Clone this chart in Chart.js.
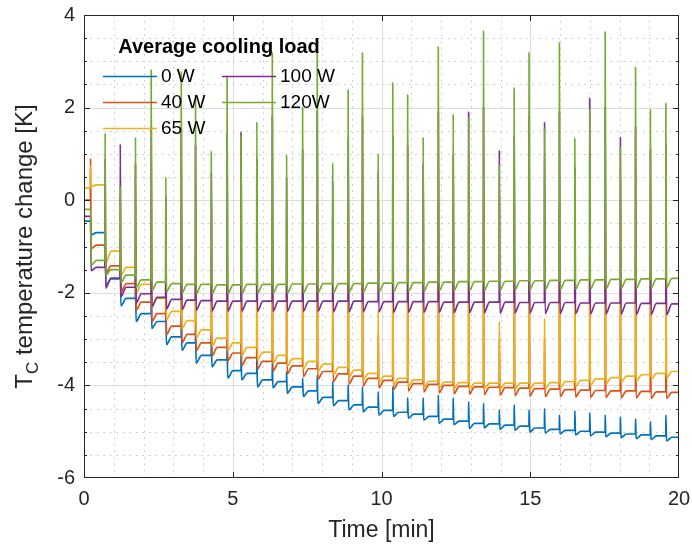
<!DOCTYPE html>
<html>
<head>
<meta charset="utf-8">
<script src="https://cdn.jsdelivr.net/npm/chart.js@4.4.0/dist/chart.umd.min.js"></script>
<style>
  html, body { margin: 0; padding: 0; background: #fff; }
  #wrap { width: 692px; height: 550px; }
</style>
</head>
<body>
<div id="wrap"><canvas id="chart" width="692" height="550"></canvas></div>
<script>
// Momentos dos picos (min)
const spikeTimes = [0.22, 0.71, 1.22, 1.73, 2.26, 2.75, 3.27, 3.75, 4.28, 4.81, 5.28, 5.81, 6.33,
  6.81, 7.35, 7.84, 8.36, 8.88, 9.36, 9.89, 10.38, 10.88, 11.40, 11.91, 12.41, 12.93, 13.43,
  13.96, 14.46, 14.96, 15.48, 15.98, 16.50, 17.00, 17.52, 18.03, 18.54, 19.04, 19.56];

const seriesNames = ['0 W', '40 W', '65 W', '100 W', '120W'];
const seriesColors = ['#0072BD', '#D95319', '#EDB120', '#7E2F8E', '#77AC30'];
const xTicks = [0, 5, 10, 15, 20];
const yTicks = [-6, -4, -2, 0, 2, 4];

// 0 W
const peaks0 = [-0.45, -0.40, -1.30, -1.70, -2.00, -2.30, -2.50, -2.80, -2.95, -3.15, -3.30, -3.40, -3.50,
  -3.71, -3.85, -3.78, -3.92, -3.99, -4.03, -4.14, -4.03, -4.27, -4.27, -4.21, -4.27, -4.35, -4.39,
  -4.53, -4.42, -4.53, -4.50, -4.64, -4.55, -4.60, -4.64, -4.68, -4.72, -4.78, -4.64];
const troughs0 = [-0.75, -1.85, -2.28, -2.62, -2.77, -3.12, -3.24, -3.52, -3.60, -3.84, -3.88, -4.03, -4.05,
  -4.17, -4.24, -4.39, -4.44, -4.53, -4.57, -4.64, -4.67, -4.71, -4.75, -4.82, -4.85, -4.93, -4.92,
  -4.95, -4.97, -5.01, -5.03, -5.05, -5.07, -5.09, -5.11, -5.13, -5.15, -5.17, -5.20];
const levels0 = [-0.45, -0.70, -1.70, -2.12, -2.45, -2.62, -2.95, -3.08, -3.35, -3.45, -3.68, -3.74, -3.88,
  -3.92, -4.03, -4.12, -4.26, -4.33, -4.42, -4.47, -4.54, -4.58, -4.62, -4.67, -4.73, -4.77, -4.82,
  -4.83, -4.86, -4.88, -4.92, -4.95, -4.97, -4.99, -5.01, -5.03, -5.05, -5.07, -5.09, -5.12];

// 40 W
const peaks40 = [0.90, -1.00, -1.30, -1.20, -0.90, -1.60, -1.00, -1.20, -1.80, -1.10, -1.60, -1.40, -1.00,
  -2.00, -1.40, -1.00, -2.20, -1.30, -1.10, -2.90, -1.30, -1.40, -1.80, -1.10, -1.60, -1.70, -1.00,
  -3.00, -1.50, -1.20, -3.00, -1.10, -2.00, -1.50, -1.00, -1.90, -1.30, -1.60, -1.50];
const troughs40 = [-1.05, -1.58, -1.98, -2.38, -2.62, -2.90, -3.08, -3.25, -3.36, -3.47, -3.57, -3.64, -3.69,
  -3.75, -3.81, -3.87, -3.92, -3.97, -4.01, -4.05, -4.09, -4.12, -4.14, -4.16, -4.18, -4.19, -4.20,
  -4.21, -4.22, -4.23, -4.24, -4.24, -4.25, -4.26, -4.26, -4.27, -4.27, -4.28, -4.28];
const levels40 = [0.00, -0.97, -1.42, -1.80, -2.20, -2.45, -2.72, -2.90, -3.08, -3.18, -3.30, -3.40, -3.48,
  -3.52, -3.58, -3.64, -3.70, -3.75, -3.80, -3.85, -3.89, -3.93, -3.96, -3.98, -4.00, -4.02, -4.03,
  -4.04, -4.05, -4.06, -4.07, -4.08, -4.09, -4.10, -4.11, -4.12, -4.12, -4.13, -4.14, -4.15];

// 65 W
const peaks65 = [0.75, -0.40, -0.80, -0.60, -0.20, -1.00, -0.30, -0.50, -1.20, -0.40, -0.90, -0.70, -0.20,
  -1.30, -0.60, -0.10, -1.50, -0.50, -0.20, -2.37, -0.40, -0.50, -1.00, -0.10, -0.70, -0.80, 0.00,
  -2.62, -0.50, -0.20, -2.55, -0.10, -1.20, -0.60, 0.00, -1.10, -0.30, -0.70, -0.60];
const troughs65 = [0.30, -1.36, -1.62, -2.00, -2.30, -2.58, -2.78, -2.98, -3.15, -3.25, -3.35, -3.45, -3.52,
  -3.58, -3.64, -3.70, -3.76, -3.82, -3.88, -3.94, -3.99, -4.02, -4.04, -4.06, -4.07, -4.08, -4.08,
  -4.08, -4.08, -4.08, -4.07, -4.06, -4.03, -4.00, -3.97, -3.94, -3.91, -3.88, -3.84];
const levels65 = [0.26, 0.33, -1.10, -1.45, -1.82, -2.12, -2.40, -2.60, -2.80, -2.98, -3.08, -3.18, -3.28,
  -3.35, -3.42, -3.48, -3.54, -3.61, -3.67, -3.74, -3.80, -3.85, -3.88, -3.91, -3.93, -3.94, -3.95,
  -3.95, -3.95, -3.95, -3.95, -3.94, -3.92, -3.89, -3.86, -3.83, -3.80, -3.77, -3.74, -3.70];

// 100 W
const peaks100 = [-0.35, 0.90, 1.21, 0.80, 1.60, 0.10, 1.50, 1.20, 0.60, 1.50, 1.47, 0.90, 1.80,
  0.50, 1.10, 1.90, 0.40, 1.30, 1.80, 0.60, 1.40, 1.20, 0.80, 1.90, 1.00, 1.90, 2.00,
  1.08, 1.40, 1.80, 1.69, 1.90, 0.72, 2.20, 2.00, 1.37, 1.60, 1.10, 1.20];
const troughs100 = [-1.52, -1.90, -2.08, -2.22, -2.30, -2.35, -2.37, -2.38, -2.39, -2.40, -2.40, -2.40, -2.40,
  -2.40, -2.40, -2.40, -2.41, -2.41, -2.41, -2.41, -2.42, -2.42, -2.42, -2.42, -2.43, -2.43, -2.43,
  -2.44, -2.44, -2.44, -2.45, -2.45, -2.45, -2.46, -2.46, -2.46, -2.47, -2.47, -2.48];
const levels100 = [-0.35, -1.45, -1.68, -1.88, -2.02, -2.10, -2.14, -2.16, -2.17, -2.18, -2.18, -2.18, -2.18,
  -2.18, -2.18, -2.18, -2.18, -2.18, -2.18, -2.19, -2.19, -2.19, -2.19, -2.19, -2.20, -2.20, -2.20,
  -2.20, -2.20, -2.21, -2.21, -2.21, -2.21, -2.22, -2.22, -2.22, -2.22, -2.23, -2.23, -2.24];

// 120 W
const peaks120 = [-0.20, 1.45, 0.30, 1.36, 2.81, 0.50, 2.77, 2.27, 1.06, 2.66, 1.40, 1.69, 3.18,
  0.98, 2.01, 3.29, 0.80, 2.38, 3.18, 1.00, 2.53, 2.27, 1.36, 3.31, 1.86, 1.80, 3.65,
  0.76, 2.42, 3.18, 1.56, 3.40, 1.34, 1.99, 3.63, 1.15, 2.87, 1.97, 2.10];
const troughs120 = [-1.40, -1.62, -1.78, -1.88, -1.95, -1.98, -2.00, -2.02, -2.02, -2.02, -2.02, -2.01, -2.01,
  -2.01, -2.00, -2.00, -2.00, -1.99, -1.99, -1.98, -1.98, -1.97, -1.97, -1.96, -1.96, -1.95, -1.95,
  -1.94, -1.94, -1.93, -1.93, -1.93, -1.92, -1.92, -1.92, -1.91, -1.91, -1.90, -1.90];
const levels120 = [-0.20, -1.30, -1.50, -1.62, -1.72, -1.77, -1.80, -1.82, -1.82, -1.83, -1.83, -1.82, -1.82,
  -1.82, -1.81, -1.81, -1.80, -1.80, -1.80, -1.79, -1.79, -1.78, -1.78, -1.77, -1.77, -1.76, -1.76,
  -1.75, -1.75, -1.74, -1.74, -1.73, -1.73, -1.72, -1.72, -1.71, -1.71, -1.70, -1.70, -1.69];

const FONT = '"Liberation Sans", Arial, Helvetica, sans-serif';
const TEXT_COLOR = '#262626';

// Monta os pontos de cada ciclo: fim do patamar, pico, vale, patamar seguinte
function buildPoints(peaks, troughs, levels) {
  const pts = [{ x: 0, y: levels[0] }];
  spikeTimes.forEach((t, i) => {
    const next = i + 1 < spikeTimes.length ? spikeTimes[i + 1] : 20;
    pts.push({ x: t - 0.004, y: levels[i] });
    pts.push({ x: t, y: peaks[i] });
    pts.push({ x: t + 0.02, y: troughs[i] });
    pts.push({ x: Math.min(t + 0.2, next - 0.02), y: levels[i + 1] });
  });
  pts.push({ x: 20, y: levels[levels.length - 1] });
  return pts;
}

const seriesData = [
  buildPoints(peaks0, troughs0, levels0),
  buildPoints(peaks40, troughs40, levels40),
  buildPoints(peaks65, troughs65, levels65),
  buildPoints(peaks100, troughs100, levels100),
  buildPoints(peaks120, troughs120, levels120)
];

// Zera o recuo que o Chart.js reserva para os rótulos das pontas
function noEdgePadding(s) {
  s.paddingLeft = 0; s.paddingRight = 0; s.paddingTop = 0; s.paddingBottom = 0;
}

// Grade principal e secundária (pontilhada), estilo MATLAB
const gridPlugin = {
  id: 'matlabGrid',
  beforeDatasetsDraw(chart) {
    const { ctx, chartArea: a, scales: { x, y } } = chart;
    ctx.save();
    ctx.lineWidth = 1;
    ctx.strokeStyle = '#c4c4c4';
    ctx.setLineDash([1.5, 5]);
    for (let v = 1; v < 20; v++) {
      if (v % 5 === 0) continue;
      const px = Math.round(x.getPixelForValue(v)) + 0.5;
      ctx.beginPath(); ctx.moveTo(px, a.top); ctx.lineTo(px, a.bottom); ctx.stroke();
    }
    for (let v = -5.5; v < 4; v += 0.5) {
      if (Math.abs(v % 2) < 1e-6) continue;
      const py = Math.round(y.getPixelForValue(v)) + 0.5;
      ctx.beginPath(); ctx.moveTo(a.left, py); ctx.lineTo(a.right, py); ctx.stroke();
    }
    ctx.setLineDash([]);
    ctx.strokeStyle = '#dcdcdc';
    xTicks.slice(1, -1).forEach(v => {
      const px = Math.round(x.getPixelForValue(v)) + 0.5;
      ctx.beginPath(); ctx.moveTo(px, a.top); ctx.lineTo(px, a.bottom); ctx.stroke();
    });
    yTicks.slice(1, -1).forEach(v => {
      const py = Math.round(y.getPixelForValue(v)) + 0.5;
      ctx.beginPath(); ctx.moveTo(a.left, py); ctx.lineTo(a.right, py); ctx.stroke();
    });
    ctx.restore();
  },
  afterDatasetsDraw(chart) {
    const { ctx, chartArea: a, scales: { x, y } } = chart;
    ctx.save();
    // caixa dos eixos
    ctx.strokeStyle = TEXT_COLOR;
    ctx.lineWidth = 1;
    ctx.strokeRect(Math.round(a.left) + 0.5, Math.round(a.top) + 0.5,
      Math.round(a.right - a.left) - 1, Math.round(a.bottom - a.top) - 1);
    // marcas dos ticks, para dentro
    ctx.beginPath();
    xTicks.slice(1, -1).forEach(v => {
      const px = Math.round(x.getPixelForValue(v)) + 0.5;
      ctx.moveTo(px, a.bottom); ctx.lineTo(px, a.bottom - 6);
      ctx.moveTo(px, a.top); ctx.lineTo(px, a.top + 6);
    });
    for (let v = -5.5; v < 4; v += 0.5) {
      const py = Math.round(y.getPixelForValue(v)) + 0.5;
      const len = Math.abs(v % 2) < 1e-6 ? 6 : 3;
      ctx.moveTo(a.left, py); ctx.lineTo(a.left + len, py);
      ctx.moveTo(a.right, py); ctx.lineTo(a.right - len, py);
    }
    ctx.stroke();

    // títulos dos eixos
    ctx.fillStyle = TEXT_COLOR;
    ctx.font = '23px ' + FONT;
    ctx.textAlign = 'center';
    ctx.textBaseline = 'middle';
    ctx.fillText('Time [min]', (a.left + a.right) / 2, 531);

    ctx.translate(24, (a.top + a.bottom) / 2);
    ctx.rotate(-Math.PI / 2);
    const mainFont = '24px ' + FONT;
    const subFont = '17px ' + FONT;
    ctx.font = mainFont;
    const wT = ctx.measureText('T').width;
    const rest = ' temperature change [K]';
    const wRest = ctx.measureText(rest).width;
    ctx.font = subFont;
    const wC = ctx.measureText('C').width;
    const total = wT + wC + wRest;
    let cx = -total / 2;
    ctx.textAlign = 'left';
    ctx.textBaseline = 'alphabetic';
    ctx.font = mainFont;
    ctx.fillText('T', cx, 8);
    cx += wT;
    ctx.font = subFont;
    ctx.fillText('C', cx, 14);
    cx += wC;
    ctx.font = mainFont;
    ctx.fillText(rest, cx, 8);
    ctx.restore();

    // legenda em duas colunas, sem caixa
    ctx.save();
    ctx.fillStyle = '#000';
    ctx.font = 'bold 20px ' + FONT;
    ctx.textAlign = 'center';
    ctx.textBaseline = 'middle';
    ctx.fillText('Average cooling load', 219, 47);
    const slots = [[103, 76], [103, 102], [103, 128], [222, 76], [222, 102]];
    ctx.font = '19px ' + FONT;
    ctx.textAlign = 'left';
    slots.forEach(([lx, ly], i) => {
      ctx.strokeStyle = seriesColors[i];
      ctx.lineWidth = 1.6;
      ctx.beginPath(); ctx.moveTo(lx, ly + 0.5); ctx.lineTo(lx + 54, ly + 0.5); ctx.stroke();
      ctx.fillText(seriesNames[i], lx + 58, ly + 1);
    });
    ctx.restore();
  }
};

new Chart(document.getElementById('chart'), {
  type: 'line',
  data: {
    datasets: seriesData.map((pts, i) => ({
      label: seriesNames[i],
      data: pts,
      borderColor: seriesColors[i],
      backgroundColor: seriesColors[i],
      borderWidth: 1.7,
      pointRadius: 0,
      fill: false,
      cubicInterpolationMode: 'monotone',
      order: 5 - i
    }))
  },
  options: {
    responsive: false,
    animation: false,
    events: [],
    layout: { padding: { top: 15, right: 13, left: 0, bottom: 0 } },
    plugins: { legend: { display: false }, tooltip: { enabled: false } },
    scales: {
      x: {
        type: 'linear',
        min: 0, max: 20,
        afterFit: s => { s.height = 72; noEdgePadding(s); },
        afterBuildTicks: s => { s.ticks = xTicks.map(v => ({ value: v })); },
        grid: { display: false, drawTicks: false },
        border: { display: false },
        ticks: { color: TEXT_COLOR, font: { size: 20, family: FONT }, padding: 9, maxRotation: 0 }
      },
      y: {
        type: 'linear',
        min: -6, max: 4,
        afterFit: s => { s.width = 84; noEdgePadding(s); },
        afterBuildTicks: s => { s.ticks = yTicks.map(v => ({ value: v })); },
        grid: { display: false, drawTicks: false },
        border: { display: false },
        ticks: { color: TEXT_COLOR, font: { size: 20, family: FONT }, padding: 9 }
      }
    }
  },
  plugins: [gridPlugin]
});
</script>
</body>
</html>
